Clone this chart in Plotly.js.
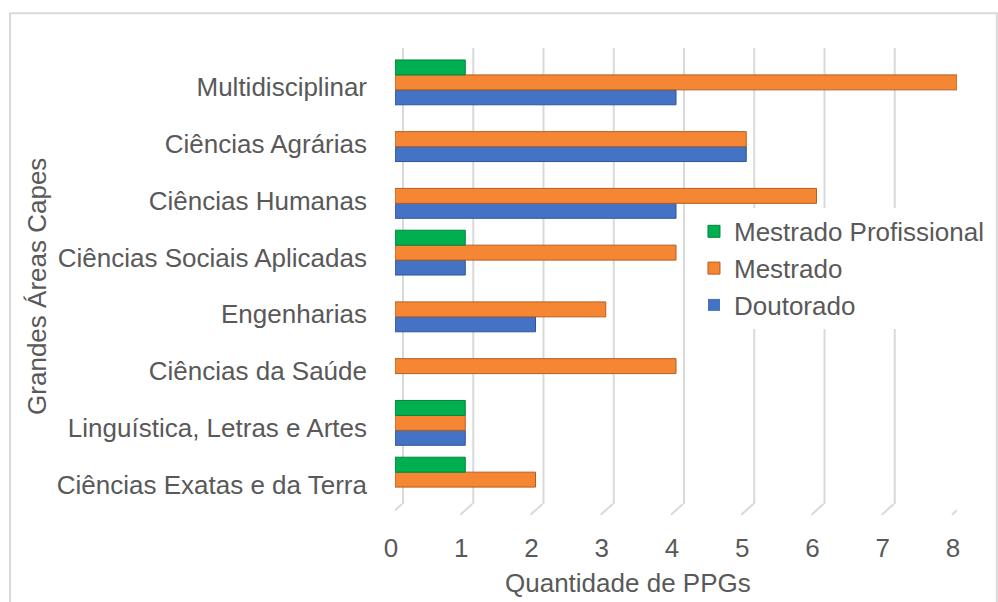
<!DOCTYPE html>
<html>
<head>
<meta charset="utf-8">
<script src="https://cdn.plot.ly/plotly-3.0.1.min.js"></script>
<style>html,body{margin:0;padding:0;background:#fff;}</style>
</head>
<body>
<div id="chart" style="width:998px;height:602px;"></div>
<script>
var categories = ["Ciências Exatas e da Terra", "Linguística, Letras e Artes", "Ciências da Saúde", "Engenharias", "Ciências Sociais Aplicadas", "Ciências Humanas", "Ciências Agrárias", "Multidisciplinar"];
var doutorado = [0, 1, 0, 2, 1, 4, 5, 4];
var mestrado = [2, 1, 4, 3, 4, 6, 5, 8];
var mestradoProfissional = [1, 1, 0, 0, 1, 0, 0, 1];
var xTicks = [0, 1, 2, 3, 4, 5, 6, 7, 8];

var FONT = "Liberation Sans, Arial, sans-serif";
var TXT = "#595959";

function tr(name, vals, color, dark) {
  return {
    type: "bar", orientation: "h", name: name,
    y: categories, x: vals,
    marker: {color: color, line: {color: dark, width: vals.map(function (v) { return v ? 1 : 0; })}},
    hoverinfo: "x+name"
  };
}
var data = [
  tr("Doutorado", doutorado, "#4472C4", "#2F5597"),
  tr("Mestrado", mestrado, "#F58634", "#B85C1F"),
  tr("Mestrado Profissional", mestradoProfissional, "#00B050", "#00843C")
];

var shapes = [];
xTicks.forEach(function (k) {
  shapes.push({type: "line", layer: "below", xref: "x", xsizemode: "pixel", xanchor: k, x0: 8, x1: 8,
    yref: "paper", y0: 0.009, y1: 1.013, line: {color: "#D9D9D9", width: 2}});
  shapes.push({type: "line", layer: "below", xref: "x", xsizemode: "pixel", xanchor: k, x0: -5, x1: 7,
    yref: "paper", y0: -0.015, y1: 0.009, line: {color: "#D9D9D9", width: 2}});
});
shapes.push({type: "rect", xref: "paper", yref: "paper", x0: -0.685, x1: 1.071, y0: -0.3, y1: 1.090,
  line: {color: "#D9D9D9", width: 2}, fillcolor: "rgba(0,0,0,0)"});

var layout = {
  width: 998, height: 602, autosize: false,
  margin: {l: 395, r: 41, t: 54, b: 94, pad: 0, autoexpand: false},
  paper_bgcolor: "#fff", plot_bgcolor: "#fff",
  font: {family: FONT, size: 26, color: TXT},
  barmode: "group", bargap: 0.21, bargroupgap: 0,
  showlegend: true,
  legend: {x: 0.532, y: 0.661, xanchor: "left", yanchor: "top", bgcolor: "#fff",
    traceorder: "reversed", font: {family: FONT, size: 26, color: TXT}},
  xaxis: {range: [0, 8], tickvals: xTicks, showgrid: false, zeroline: false, showline: false,
    ticks: "", ticklabelstandoff: 22, ticklabelshift: -4, fixedrange: true},
  yaxis: {type: "category", categoryorder: "array", categoryarray: categories, range: [-0.5, 7.5],
    showgrid: false, zeroline: false, showline: false, ticks: "", ticklabelstandoff: 27,
    ticklabelshift: 5, fixedrange: true},
  shapes: shapes,
  annotations: [
    {text: "Quantidade de PPGs", xref: "paper", yref: "paper", x: 0.415, y: -0.165, xanchor: "center", yanchor: "middle",
      showarrow: false, font: {family: FONT, size: 26, color: TXT}},
    {text: "Grandes Áreas Capes", xref: "paper", yref: "paper", x: -0.637, y: 0.487, xanchor: "center", yanchor: "middle",
      textangle: -90, showarrow: false, font: {family: FONT, size: 26, color: TXT}}
  ]
};
Plotly.newPlot("chart", data, layout, {displayModeBar: false, staticPlot: true});
</script>
</body>
</html>
